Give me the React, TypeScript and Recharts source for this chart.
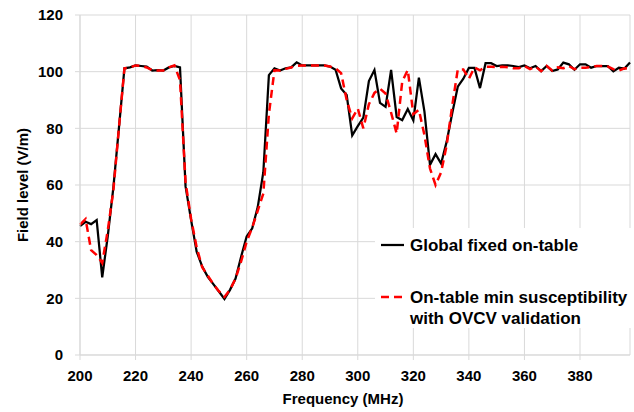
import { LineChart, Line, XAxis, YAxis, CartesianGrid, Label } from 'recharts';

// frequency steps (MHz)
const FREQ = [
  200, 202, 204, 206, 208, 210, 212, 214, 216, 218,
  220, 222, 224, 226, 228, 230, 232, 234, 236, 238,
  240, 242, 244, 246, 248, 250, 252, 254, 256, 258,
  260, 262, 264, 266, 268, 270, 272, 274, 276, 278,
  280, 282, 284, 286, 288, 290, 292, 294, 296, 298,
  300, 302, 304, 306, 308, 310, 312, 314, 316, 318,
  320, 322, 324, 326, 328, 330, 332, 334, 336, 338,
  340, 342, 344, 346, 348, 350, 352, 354, 356, 358,
  360, 362, 364, 366, 368, 370, 372, 374, 376, 378,
  380, 382, 384, 386, 388, 390, 392, 394, 396, 398,
];

// Global fixed on-table (V/m)
const GLOBAL_FIXED = [
  45.5, 47, 46.2, 47.6, 27.4, 42, 59, 80, 101.2, 101.5,
  102.2, 102, 101.8, 100.4, 100.5, 100.4, 101.5, 102, 101.5, 59.5,
  47.6, 36.5, 31.2, 27.6, 25, 22.4, 19.8, 23, 27, 34.7,
  41.8, 44.7, 52.3, 64.5, 98.8, 101.2, 100.4, 101.2, 101.5, 103.3,
  102.2, 102.2, 102.2, 102.2, 102.2, 101.8, 100.7, 94.1, 91.8, 77.5,
  80.8, 83.8, 96.7, 100.6, 89, 87.6, 100.6, 84, 82.9, 86.8,
  82.8, 97.9, 85.9, 67.1, 70.9, 67.6, 75.3, 85.3, 94.7, 97.5,
  101.3, 101.3, 94.2, 103, 103, 102, 102.2, 102.2, 102, 101.6,
  102.2, 101.2, 102, 100.2, 102, 100.2, 100.8, 103.2, 102.6, 100.7,
  102.6, 102.6, 101.4, 102, 102, 102, 100.1, 101.4, 101.1, 103.2,
];

// On-table min susceptibility with OVCV validation (V/m)
const MIN_SUSCEPTIBILITY = [
  46, 48, 37, 35.3, 32.5, 44, 58, 80, 101.2, 101.5,
  102.2, 102, 101.5, 100.5, 100.4, 100.4, 101.5, 102.2, 97, 61,
  48, 38, 31, 28, 25, 22.5, 20.5, 23, 27, 33,
  40, 45, 51, 57, 85, 100.5, 100.4, 101, 101.5, 102,
  102.2, 102.2, 102.2, 102.2, 102.2, 101.8, 101.2, 99.5, 90, 83.5,
  87, 80, 88.5, 92.5, 94, 92.3, 85.5, 78.2, 96.5, 100.6,
  85, 86.5, 77.6, 65.8, 60, 64.5, 74, 88, 100.8, 100.8,
  97.5, 101.5, 100.5, 101.7, 101.7, 101.6, 101.7, 101.6, 101.2, 101.2,
  102, 100.9, 101.8, 100.2, 102, 100.4, 101.5, 101.2, 102, 100.9,
  101.4, 101.4, 101.6, 102, 102, 101.8, 100.9, 100.4, 101.2, 101,
];

const X_TICKS = [200, 220, 240, 260, 280, 300, 320, 340, 360, 380];
const Y_TICKS = [0, 20, 40, 60, 80, 100, 120];

const data = FREQ.map((f, i) => ({
  f,
  fixed: GLOBAL_FIXED[i],
  minSus: MIN_SUSCEPTIBILITY[i],
}));

const FONT = '"Liberation Sans", Arial, sans-serif';
const GRID = '#d9d9d9';
const tickStyle = { fontSize: 15, fontWeight: 700, fill: '#000', fontFamily: FONT };

function LegendBox() {
  return (
    <svg
      width={259}
      height={100}
      style={{ position: 'absolute', left: 375, top: 228 }}
    >
      <rect x={0} y={0} width={259} height={100} fill="#fff" />
      <line x1={6} x2={29} y1={17} y2={17} stroke="#000" strokeWidth={2.25} />
      <text x={35} y={17} dominantBaseline="central" fontSize={17} fontWeight={700} fontFamily={FONT}>
        Global fixed on-table
      </text>
      <line x1={6} x2={29} y1={69} y2={69} stroke="#ff0000" strokeWidth={2.5} strokeDasharray="8 5" />
      <text x={35} y={69} dominantBaseline="central" fontSize={17} fontWeight={700} fontFamily={FONT}>
        On-table min susceptibility
      </text>
      <text x={35} y={90} dominantBaseline="central" fontSize={17} fontWeight={700} fontFamily={FONT}>
        with OVCV validation
      </text>
    </svg>
  );
}

export default function App() {
  return (
    <div style={{ position: 'absolute', left: 0, top: 0, width: 634, height: 412, background: '#fff' }}>
      <LineChart width={634} height={412} data={data} margin={{ top: 15, right: 4, left: 0, bottom: 0 }}>
        <CartesianGrid stroke={GRID} />
        <XAxis
          dataKey="f"
          type="number"
          domain={[200, 398]}
          ticks={X_TICKS}
          interval={0}
          height={57}
          tickSize={5}
          tickMargin={10}
          axisLine={{ stroke: GRID }}
          tickLine={{ stroke: GRID }}
          tick={tickStyle}
        >
          <Label
            content={() => (
              <text x={343} y={398} textAnchor="middle" dominantBaseline="central"
                fontSize={15} fontWeight={700} fontFamily={FONT} fill="#000">
                Frequency (MHz)
              </text>
            )}
          />
        </XAxis>
        <YAxis
          type="number"
          domain={[0, 120]}
          ticks={Y_TICKS}
          interval={0}
          width={80}
          tickSize={5}
          tickMargin={12}
          axisLine={{ stroke: GRID }}
          tickLine={{ stroke: GRID }}
          tick={tickStyle}
        >
          <Label
            content={() => (
              <text x={22} y={185} transform="rotate(-90, 22, 185)" textAnchor="middle"
                dominantBaseline="central" fontSize={15} fontWeight={700} fontFamily={FONT} fill="#000">
                Field level (V/m)
              </text>
            )}
          />
        </YAxis>
        <Line type="linear" dataKey="fixed" stroke="#000" strokeWidth={2.25} dot={false} isAnimationActive={false} />
        <Line type="linear" dataKey="minSus" stroke="#ff0000" strokeWidth={2.5} strokeDasharray="8 5" dot={false} isAnimationActive={false} />
      </LineChart>
      <LegendBox />
    </div>
  );
}
